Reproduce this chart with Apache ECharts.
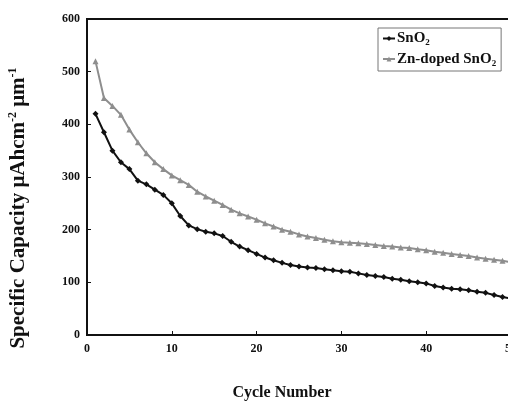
<!DOCTYPE html>
<html>
<head>
<meta charset="utf-8">
<script src="https://cdn.jsdelivr.net/npm/echarts@6/dist/echarts.min.js"></script>
<style>
  html, body { margin: 0; padding: 0; background: #fff; }
  #main { width: 508px; height: 401px; }
</style>
</head>
<body>
<div id="main"></div>
<script>
var cycles = [];
for (var i = 1; i <= 50; i++) cycles.push(i);

var sno2 = [420, 385, 350, 328, 315, 293, 286, 276, 266, 250,
            226, 208, 201, 196, 193, 188, 177, 168, 161, 154,
            147, 142, 137, 133, 130, 128, 127, 125, 123, 121,
            120, 117, 114, 112, 110, 107, 105, 102, 100, 98,
            93, 90, 88, 87, 85, 82, 80, 76, 72, 69];

var znSno2 = [520, 450, 435, 418, 390, 366, 345, 328, 315, 303,
              294, 285, 272, 263, 255, 247, 238, 231, 225, 219,
              212, 206, 200, 196, 191, 187, 184, 181, 178, 176,
              175, 174, 173, 171, 169, 168, 166, 165, 163, 161,
              158, 156, 154, 152, 150, 147, 145, 143, 141, 138];

var xTicks = [0, 10, 20, 30, 40, 50];
var yTicks = [0, 100, 200, 300, 400, 500, 600];

var serif = 'Liberation Serif';

function pairs(ys) {
  return ys.map(function (v, i) { return [cycles[i], v]; });
}

var myChart = echarts.init(document.getElementById('main'));

var option = {
  backgroundColor: '#fff',
  animation: false,
  grid: {
    left: 87, top: 19, width: 424, height: 316,
    outerBoundsMode: 'none',
    containLabel: false,
    show: true, borderColor: '#111', borderWidth: 2
  },
  legend: {
    orient: 'vertical',
    left: 378, top: 28,
    padding: [3, 5, 3, 4],
    itemGap: 4,
    itemWidth: 12, itemHeight: 6,
    borderColor: '#777', borderWidth: 1,
    data: ['SnO2', 'Zn-doped SnO2'],
    formatter: function (name) {
      return name === 'SnO2' ? '{t|SnO}{s|2}' : '{t|Zn-doped SnO}{s|2}';
    },
    textStyle: {
      fontFamily: serif, fontWeight: 'bold', color: '#111', fontSize: 15,
      padding: [0, 0, 0, -3],
      rich: {
        t: { fontFamily: serif, fontWeight: 'bold', fontSize: 15, color: '#111', lineHeight: 18, verticalAlign: 'middle' },
        s: { fontFamily: serif, fontWeight: 'bold', fontSize: 9, color: '#111', lineHeight: 9, verticalAlign: 'bottom' }
      }
    }
  },
  xAxis: {
    type: 'value',
    min: 0, max: 50, interval: 10,
    name: 'Cycle Number',
    nameLocation: 'middle',
    nameGap: 50,
    nameTextStyle: {
      fontFamily: serif, fontWeight: 'bold', fontSize: 16, color: '#111',
      padding: [0, 34, 0, 0]
    },
    axisLine: { lineStyle: { color: '#111', width: 2 } },
    axisTick: { inside: true, length: 4, lineStyle: { color: '#111' } },
    axisLabel: {
      margin: 8,
      fontFamily: serif, fontWeight: 'bold', fontSize: 12, color: '#111',
      formatter: function (v) { return xTicks.indexOf(v) >= 0 ? String(v) : ''; }
    },
    splitLine: { show: false }
  },
  yAxis: {
    type: 'value',
    min: 0, max: 600, interval: 100,
    name: '{t|Specific Capacity μAhcm}{p|-2}{t| μm}{p|-1}',
    nameLocation: 'middle',
    nameRotate: 90,
    nameGap: 56,
    nameTextStyle: {
      fontFamily: serif, fontWeight: 'bold', fontSize: 21, color: '#111',
      padding: [0, 62, 0, 0],
      rich: {
        t: { fontFamily: serif, fontWeight: 'bold', fontSize: 21, color: '#111', lineHeight: 24, verticalAlign: 'middle' },
        p: { fontFamily: serif, fontWeight: 'bold', fontSize: 12, color: '#111', lineHeight: 12, verticalAlign: 'top' }
      }
    },
    axisLine: { lineStyle: { color: '#111', width: 2 } },
    axisTick: { inside: true, length: 4, lineStyle: { color: '#111' } },
    axisLabel: {
      margin: 7,
      fontFamily: serif, fontWeight: 'bold', fontSize: 12, color: '#111',
      formatter: function (v) { return yTicks.indexOf(v) >= 0 ? String(v) : ''; }
    },
    splitLine: { show: false }
  },
  series: [
    {
      name: 'SnO2',
      type: 'line',
      data: pairs(sno2),
      symbol: 'diamond',
      symbolSize: 6,
      lineStyle: { color: '#111', width: 2 },
      itemStyle: { color: '#111' }
    },
    {
      name: 'Zn-doped SnO2',
      type: 'line',
      data: pairs(znSno2),
      symbol: 'triangle',
      symbolSize: 6,
      lineStyle: { color: '#8e8e8e', width: 2 },
      itemStyle: { color: '#8e8e8e' }
    }
  ]
};

option && myChart.setOption(option);
</script>
</body>
</html>
